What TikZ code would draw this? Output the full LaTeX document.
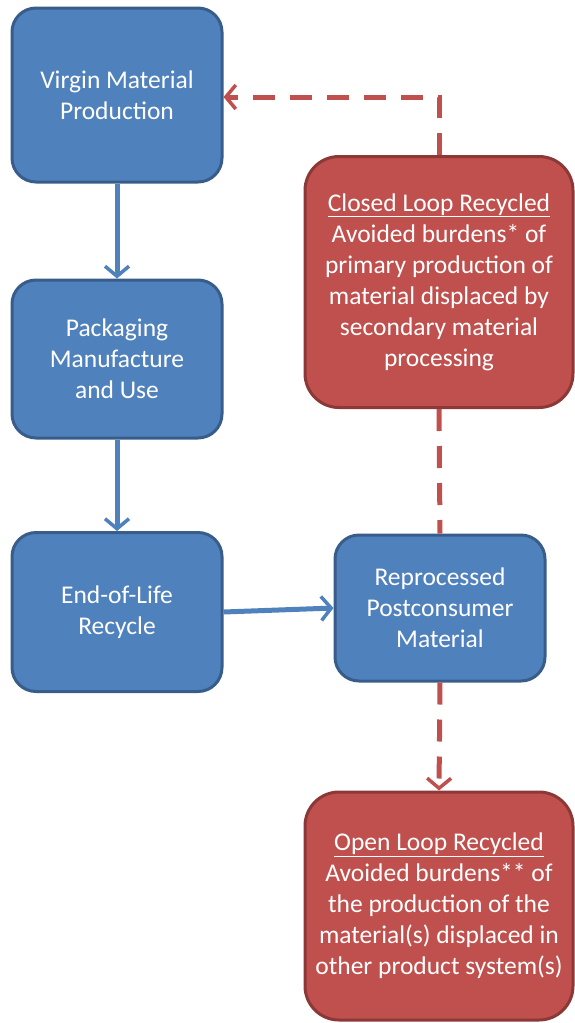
\documentclass[tikz,border=0pt]{standalone}
\usepackage{fontspec}
\setmainfont{Carlito}
\usetikzlibrary{arrows.meta}
\definecolor{bluefill}{HTML}{4F81BD}
\definecolor{blueline}{HTML}{385D8A}
\definecolor{redfill}{HTML}{C0504D}
\definecolor{redline}{HTML}{8C3836}
\tikzset{
  box/.style = {align=center, inner sep=0pt, text centered, text=white,
    font=\fontsize{25.5}{31}\selectfont, line width=3pt},
  box_b/.style = {box, rectangle, rounded corners=24pt, draw=blueline,
    fill=bluefill, minimum width=210pt},% boite bleue, procede
  box_r/.style = {box, rectangle, rounded corners=34pt, draw=redline,
    fill=redfill, minimum width=268pt},% boite rouge, charge evitee
  flow_b/.style = {draw=bluefill, line width=5pt,
    -{Straight Barb[length=10pt,width=24pt,line width=3.5pt]}},
  flow_r/.style = {draw=redfill, line width=5pt, dash pattern=on 22pt off 15pt}
}
\begin{document}
\begin{tikzpicture}[x=1pt, y=-1pt]
\useasboundingbox (0,0) rectangle (575,1023);
\node [box_b, minimum height=174pt] (virgin) at (117,95)
  {Virgin Material\\Production};
\node [box_b, minimum height=158pt] (pack) at (117,359)
  {Packaging\\Manufacture\\and Use};
\node [box_b, minimum height=159pt] (eol) at (117,612)
  {End-of-Life\\Recycle};
\node [box_b, minimum height=146pt] (repro) at (440,608)
  {Reprocessed\\Postconsumer\\Material};
\node [box_r, minimum height=251pt] (closed) at (439,282)
  {\underline{Closed Loop Recycled}\\Avoided burdens* of\\primary production of\\material displaced by\\secondary material\\processing};
\node [box_r, minimum height=228pt] (open) at (439,906)
  {\underline{Open Loop Recycled}\\Avoided burdens** of\\the production of the\\material(s) displaced in\\other product system(s)};
\coordinate (turn) at (closed.north |- 0,97);
\draw [flow_b] (virgin) -- (pack);
\draw [flow_b] (pack) -- (eol);
\draw [flow_b] (eol.east) -- (repro.west);
\draw [flow_r, -{Straight Barb[length=10pt,width=24pt,line width=3.5pt]}]
  (closed.north) -- (turn) -- (virgin.east |- turn);
\draw [flow_r] (closed.south) -- (repro.north);
\draw [flow_r, -{Straight Barb[length=10pt,width=24pt,line width=3.5pt]}]
  (repro.south) -- (open.north);
\end{tikzpicture}
\end{document}
